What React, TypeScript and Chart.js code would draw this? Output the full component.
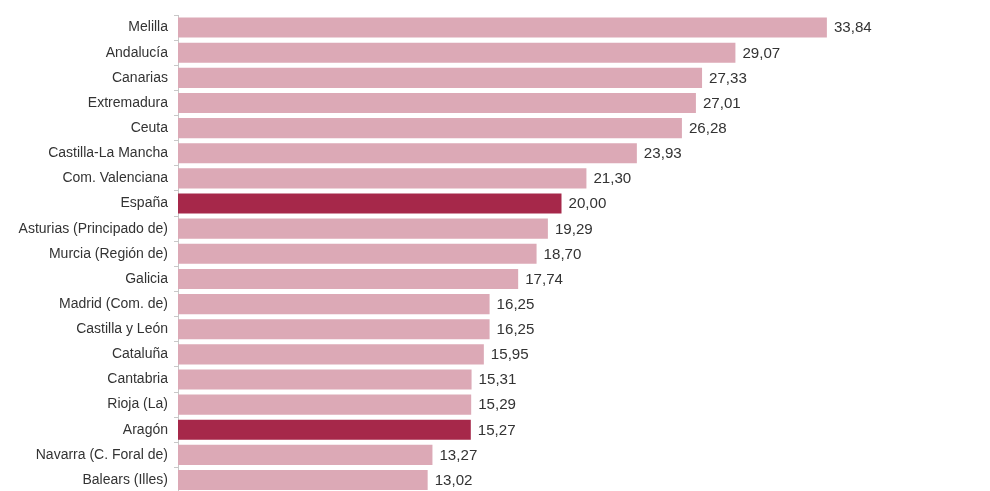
import React, { useEffect, useRef } from "react";
import { Chart, registerables } from "chart.js";

Chart.register(...registerables);

const regions: string[] = [
  "Melilla",
  "Andalucía",
  "Canarias",
  "Extremadura",
  "Ceuta",
  "Castilla-La Mancha",
  "Com. Valenciana",
  "España",
  "Asturias (Principado de)",
  "Murcia (Región de)",
  "Galicia",
  "Madrid (Com. de)",
  "Castilla y León",
  "Cataluña",
  "Cantabria",
  "Rioja (La)",
  "Aragón",
  "Navarra (C. Foral de)",
  "Balears (Illes)",
];

const values: number[] = [
  33.84, 29.07, 27.33, 27.01, 26.28, 23.93, 21.3, 20.0, 19.29, 18.7, 17.74,
  16.25, 16.25, 15.95, 15.31, 15.29, 15.27, 13.27, 13.02,
];

const highlighted: string[] = ["España", "Aragón"];

const LIGHT = "#DCA9B6";
const DARK = "#A6284A";
const TEXT = "#333333";
const FONT_FAMILY = "'Liberation Sans', Arial, sans-serif";

const fmt = (v: number) => v.toFixed(2).replace(".", ",");

const valueLabels = {
  id: "valueLabels",
  afterDatasetsDraw(chart: any) {
    const ctx = chart.ctx;
    const meta = chart.getDatasetMeta(0);
    ctx.save();
    ctx.font = `14px ${FONT_FAMILY}`;
    ctx.fillStyle = TEXT;
    ctx.textAlign = "left";
    ctx.textBaseline = "middle";
    meta.data.forEach((bar: any, i: number) => {
      ctx.save();
      ctx.translate(bar.x + 7, bar.y + 1);
      ctx.scale(1.08, 1);
      ctx.fillText(fmt(values[i]), 0, 0);
      ctx.restore();
    });
    ctx.restore();
  },
};

export default function App() {
  const ref = useRef<HTMLCanvasElement | null>(null);

  useEffect(() => {
    if (!ref.current) return;
    const chart = new Chart(ref.current, {
      type: "bar",
      data: {
        labels: regions,
        datasets: [
          {
            data: values,
            backgroundColor: regions.map((r) =>
              highlighted.includes(r) ? DARK : LIGHT
            ),
            borderWidth: 0,
            barPercentage: 0.8,
            categoryPercentage: 1,
          },
        ],
      },
      options: {
        indexAxis: "y",
        responsive: false,
        animation: false,
        devicePixelRatio: 1,
        layout: { padding: { top: 15, bottom: 0, left: 0, right: 45 } },
        plugins: {
          legend: { display: false },
          tooltip: { enabled: false },
          title: { display: false },
        },
        scales: {
          x: {
            display: false,
            min: 0,
            max: 40,
          },
          y: {
            afterFit: (scale: any) => {
              scale.width = 178;
            },
            grid: {
              drawOnChartArea: false,
              tickLength: 4,
              color: "#c8c8c8",
            },
            border: { display: true, color: "#c8c8c8", width: 1 },
            ticks: {
              padding: 6,
              color: TEXT,
              font: { family: FONT_FAMILY, size: 14 },
            },
          },
        },
      },
      plugins: [valueLabels],
    });
    return () => chart.destroy();
  }, []);

  return (
    <div
      style={{
        position: "fixed",
        top: 0,
        left: 0,
        width: 990,
        height: 491,
        overflow: "hidden",
        background: "#ffffff",
      }}
    >
      <canvas ref={ref} width={990} height={507} style={{ display: "block" }} />
    </div>
  );
}
